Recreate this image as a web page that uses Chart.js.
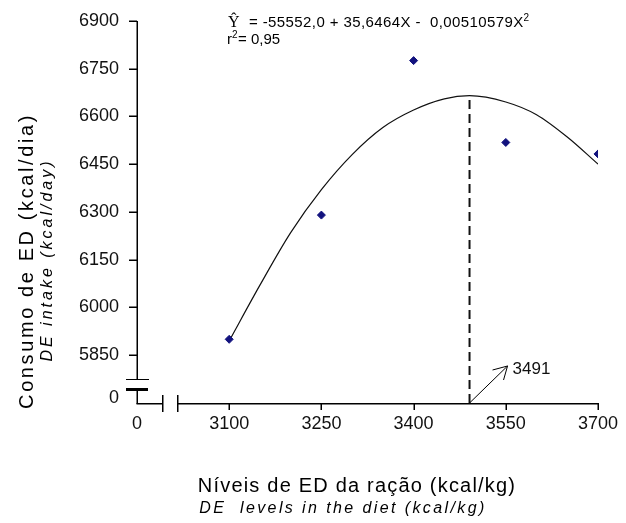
<!DOCTYPE html>
<html>
<head>
<meta charset="utf-8">
<script src="https://cdn.jsdelivr.net/npm/chart.js@4"></script>
<style>
  html, body { margin: 0; padding: 0; background: #fff; }
  #wrap { position: relative; width: 626px; height: 523px; }
</style>
</head>
<body>
<div id="wrap"><canvas id="chart"></canvas></div>
<script>
// ── Data ───────────────────────────────────────────────────────────
const levels = [3100, 3250, 3400, 3550, 3700];          // kcal ED/kg
const intake = [5900, 6290, 6775, 6518, 6482];          // kcal ED/dia, observed
const fitX = [3100, 3150, 3200, 3250, 3300, 3350, 3400, 3450, 3491, 3550, 3600, 3650, 3700];
const fitY = [5895, 6070, 6235, 6370, 6480, 6565, 6620, 6655, 6665, 6645, 6605, 6535, 6450];
const xTicks = [2950, 3100, 3250, 3400, 3550, 3700];
const xTickLabels = ['0', '3100', '3250', '3400', '3550', '3700'];
const yTicks = [5716, 5850, 6000, 6150, 6300, 6450, 6600, 6750, 6900];
const yTickLabels = ['0', '5850', '6000', '6150', '6300', '6450', '6600', '6750', '6900'];
const optimum = 3491;
const optimumY = 6665;

const tickFont = { family: 'Liberation Sans, Arial, sans-serif', size: 18 };
const hidden = 'rgba(0,0,0,0)';

// axis lines + tick marks, placed from the scales' own ticks
function drawAxes(chart) {
  const { ctx, chartArea: a, scales: { x, y } } = chart;
  const bx = Math.round(a.left), by = Math.round(a.bottom), top = Math.round(a.top);
  ctx.save();
  ctx.globalCompositeOperation = 'source-over';
  ctx.globalAlpha = 1;
  ctx.fillStyle = '#000';
  ctx.fillRect(bx - 0.5, top, 1.5, by - top + 1);
  ctx.fillRect(bx - 0.5, by, Math.round(a.right) - bx + 1.5, 1.5);
  x.ticks.forEach((t, i) => {
    if (xTickLabels[i] === '0') return;
    ctx.fillRect(Math.round(x.getPixelForTick(i)) - 0.5, by, 1.5, 7);
  });
  y.ticks.forEach((t, i) => {
    if (yTickLabels[i] === '0') return;
    ctx.fillRect(bx - 8, Math.round(y.getPixelForTick(i)) - 0.5, 8, 1.5);
  });
  ctx.restore();
}

// axis breaks, arrow, titles and equation
const decorations = {
  id: 'decorations',
  afterDatasetsDraw(chart) {
    drawAxes(chart);
  },
  afterDraw(chart) {
    const { ctx, chartArea: a, scales: { x, y } } = chart;
    ctx.save();

    // y-axis break
    const yb1 = Math.round(y.getPixelForValue(5775)), yb2 = Math.round(y.getPixelForValue(5744));
    ctx.fillStyle = '#fff';
    ctx.fillRect(a.left - 2, yb1, 5, yb2 - yb1);
    ctx.fillStyle = '#000';
    ctx.fillRect(a.left - 11, yb1, 23, 1);
    ctx.fillRect(a.left - 11, yb2 - 1, 22, 3);

    // x-axis break
    const xb1 = Math.round(x.getPixelForValue(2991)), xb2 = Math.round(x.getPixelForValue(3015));
    ctx.fillStyle = '#fff';
    ctx.fillRect(xb1, a.bottom - 2, xb2 - xb1, 5);
    ctx.fillStyle = '#000';
    ctx.fillRect(xb1, a.bottom - 8, 1.5, 17);
    ctx.fillRect(xb2, a.bottom - 8, 1.5, 17);

    // arrow to the optimum
    const ox = x.getPixelForValue(optimum), oy = a.bottom;
    const tx = ox + 38, ty = oy - 37;
    ctx.strokeStyle = '#000';
    ctx.lineWidth = 1;
    ctx.beginPath();
    ctx.moveTo(ox, oy); ctx.lineTo(tx, ty);
    ctx.moveTo(tx, ty); ctx.lineTo(tx - 15, ty + 4);
    ctx.moveTo(tx, ty); ctx.lineTo(tx - 4, ty + 14);
    ctx.stroke();
    ctx.fillStyle = '#111';
    ctx.font = '17px "Liberation Sans", Arial, sans-serif';
    ctx.textAlign = 'left';
    ctx.textBaseline = 'alphabetic';
    ctx.fillText(String(optimum), tx + 5, ty + 8);

    // regression equation
    ctx.fillStyle = '#000';
    ctx.font = '16px "Liberation Serif", serif';
    ctx.fillText('\u0176', 228, 27);
    ctx.font = '15px "Liberation Sans", Arial, sans-serif';
    ctx.letterSpacing = '0.4px';
    const eq = '= -55552,0 + 35,6464X -  0,00510579X';
    ctx.fillText(eq, 249, 27);
    const eqW = ctx.measureText(eq).width;
    ctx.letterSpacing = '0px';
    ctx.font = '10px "Liberation Sans", Arial, sans-serif';
    ctx.fillText('2', 249 + eqW, 21);
    ctx.font = '15px "Liberation Sans", Arial, sans-serif';
    ctx.fillText('r', 227, 44);
    ctx.font = '10px "Liberation Sans", Arial, sans-serif';
    ctx.fillText('2', 232, 38);
    ctx.font = '15px "Liberation Sans", Arial, sans-serif';
    ctx.fillText('= 0,95', 238, 44);

    // axis titles
    ctx.textAlign = 'center';
    ctx.textBaseline = 'middle';
    ctx.font = '20px "Liberation Sans", Arial, sans-serif';
    ctx.letterSpacing = '1.2px';
    ctx.fillText('Níveis de ED da ração (kcal/kg)', 357, 486);
    ctx.font = 'italic 16px "Liberation Sans", Arial, sans-serif';
    ctx.letterSpacing = '2.4px';
    ctx.fillText('DE  levels in the diet (kcal/kg)', 343, 509);

    ctx.save();
    ctx.translate(27, 261);
    ctx.rotate(-Math.PI / 2);
    ctx.font = '20px "Liberation Sans", Arial, sans-serif';
    ctx.letterSpacing = '2.6px';
    ctx.fillText('Consumo de ED (kcal/dia)', 0, 0);
    ctx.restore();
    ctx.save();
    ctx.translate(48, 260);
    ctx.rotate(-Math.PI / 2);
    ctx.font = 'italic 16px "Liberation Sans", Arial, sans-serif';
    ctx.letterSpacing = '3px';
    ctx.fillText('DE intake (kcal/day)', 0, 0);
    ctx.restore();

    ctx.restore();
  }
};

new Chart(document.getElementById('chart'), {
  type: 'scatter',
  data: {
    datasets: [
      {
        label: 'Observado',
        data: levels.map((v, i) => ({ x: v, y: intake[i] })),
        pointStyle: 'rectRot', pointRadius: 4,
        backgroundColor: '#12127e', borderColor: '#12127e', borderWidth: 1,
        order: 0,
      },
      {
        label: 'Ajuste',
        data: fitX.map((v, i) => ({ x: v, y: fitY[i] })),
        showLine: true, pointRadius: 0, borderColor: '#111', borderWidth: 1.2,
        cubicInterpolationMode: 'monotone',
        order: 1,
      },
      {
        label: 'Ótimo',
        data: [{ x: optimum, y: 5700 }, { x: optimum, y: optimumY }],
        showLine: true, pointRadius: 0, borderColor: '#111', borderWidth: 2,
        borderDash: [9, 5],
        order: 2,
      },
    ],
  },
  options: {
    responsive: true, maintainAspectRatio: false, animation: false,
    layout: { padding: { top: 20, right: 28, left: 0, bottom: 0 } },
    plugins: { legend: { display: false }, tooltip: { enabled: false } },
    scales: {
      x: {
        type: 'linear', min: 2950, max: 3700,
        afterBuildTicks: s => { s.ticks = xTicks.map(v => ({ value: v })); },
        afterFit: s => { s.height = 120; },
        ticks: { callback: (v, i) => xTickLabels[i], autoSkip: false, maxRotation: 0, color: '#111', font: tickFont, padding: 3 },
        grid: { drawOnChartArea: false, tickLength: 7, color: '#000', tickColor: hidden },
        border: { display: false },
      },
      y: {
        type: 'linear', min: 5700, max: 6900,
        afterBuildTicks: s => { s.ticks = yTicks.map(v => ({ value: v })); },
        afterFit: s => { s.width = 137; },
        ticks: { callback: (v, i) => yTickLabels[i], autoSkip: false, color: '#111', font: tickFont, padding: 10 },
        grid: { drawOnChartArea: false, tickLength: 8, color: '#000', tickColor: hidden },
        border: { display: false },
      },
    },
  },
  plugins: [decorations],
});
</script>
</body>
</html>
